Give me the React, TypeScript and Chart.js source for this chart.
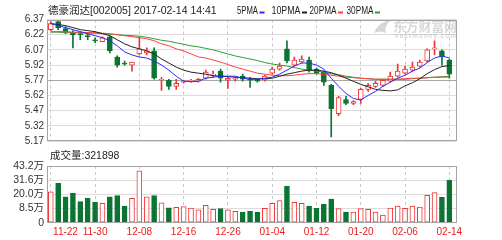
import React, { useEffect, useRef } from "react";
import { Chart, registerables } from "chart.js";

Chart.register(...registerables);

// ---------- data ----------
const dates = [
  "11-22", "11-23", "11-24", "11-25", "11-28", "11-29", "11-30",
  "12-01", "12-02", "12-05", "12-06", "12-07", "12-08", "12-09", "12-12", "12-13", "12-14", "12-15", "12-16",
  "12-19", "12-20", "12-21", "12-22", "12-23", "12-26", "12-27", "12-28", "12-29", "12-30",
  "01-03", "01-04", "01-05", "01-06", "01-09", "01-10", "01-11", "01-12", "01-13", "01-16", "01-17", "01-18",
  "01-19", "01-20", "01-23", "01-24", "01-25", "01-26",
  "02-03", "02-06", "02-07", "02-08", "02-09", "02-10", "02-13", "02-14",
];
const opens = [6.27, 6.35, 6.28, 6.24, 6.23, 6.21, 6.17, 6.15, 6.20, 6.00, 5.94, 5.92, 6.03, 6.04, 6.06, 5.77, 5.77, 5.71, 5.75, 5.76, 5.76, 5.79, 5.82, 5.86, 5.77, 5.78, 5.81, 5.78, 5.78, 5.77, 5.84, 5.88, 6.08, 5.92, 5.95, 5.97, 5.88, 5.85, 5.72, 5.44, 5.58, 5.54, 5.58, 5.68, 5.71, 5.72, 5.76, 5.81, 5.84, 5.87, 5.91, 5.96, 6.08, 6.06, 5.97];
const highs = [6.35, 6.36, 6.30, 6.26, 6.25, 6.24, 6.19, 6.20, 6.21, 6.01, 5.96, 5.95, 6.20, 6.09, 6.09, 5.80, 5.78, 5.78, 5.77, 5.78, 5.79, 5.87, 5.86, 5.88, 5.80, 5.80, 5.83, 5.80, 5.78, 5.82, 5.90, 5.94, 6.16, 6.00, 6.01, 6.00, 5.89, 5.86, 5.73, 5.61, 5.61, 5.57, 5.69, 5.74, 5.76, 5.78, 5.85, 5.93, 5.91, 5.95, 5.97, 6.08, 6.16, 6.07, 5.98];
const lows = [6.26, 6.27, 6.23, 6.09, 6.17, 6.17, 6.14, 6.15, 6.04, 5.90, 5.92, 5.86, 6.02, 6.02, 5.78, 5.67, 5.68, 5.68, 5.74, 5.75, 5.75, 5.78, 5.80, 5.75, 5.69, 5.76, 5.76, 5.70, 5.75, 5.76, 5.83, 5.87, 5.94, 5.91, 5.94, 5.85, 5.83, 5.72, 5.21, 5.42, 5.53, 5.53, 5.54, 5.66, 5.70, 5.71, 5.75, 5.80, 5.83, 5.86, 5.90, 5.95, 6.02, 5.92, 5.79];
const closes = [6.33, 6.29, 6.25, 6.22, 6.22, 6.20, 6.16, 6.19, 6.06, 5.92, 5.93, 5.95, 6.08, 6.06, 5.79, 5.78, 5.71, 5.74, 5.76, 5.77, 5.78, 5.85, 5.83, 5.79, 5.79, 5.79, 5.78, 5.77, 5.76, 5.81, 5.88, 5.91, 5.96, 5.97, 5.98, 5.87, 5.84, 5.75, 5.49, 5.60, 5.54, 5.56, 5.68, 5.72, 5.74, 5.77, 5.81, 5.86, 5.88, 5.90, 5.95, 6.07, 6.09, 6.00, 5.83];

const ma5 = [6.33, 6.31, 6.29, 6.27, 6.25, 6.23, 6.21, 6.19, 6.16, 6.11, 6.05, 6.02, 6.00, 5.99, 5.96, 5.92, 5.87, 5.81, 5.76, 5.755, 5.76, 5.79, 5.80, 5.81, 5.81, 5.81, 5.79, 5.78, 5.78, 5.79, 5.80, 5.83, 5.87, 5.91, 5.94, 5.94, 5.92, 5.88, 5.79, 5.71, 5.64, 5.59, 5.575, 5.62, 5.66, 5.71, 5.75, 5.79, 5.82, 5.86, 5.89, 5.945, 5.99, 6.01, 5.99];
const ma10 = [6.33, 6.32, 6.31, 6.29, 6.27, 6.26, 6.25, 6.23, 6.21, 6.17, 6.13, 6.10, 6.08, 6.06, 6.03, 5.98, 5.94, 5.90, 5.87, 5.85, 5.84, 5.83, 5.815, 5.81, 5.805, 5.80, 5.795, 5.79, 5.785, 5.785, 5.79, 5.81, 5.83, 5.845, 5.86, 5.87, 5.87, 5.86, 5.845, 5.82, 5.79, 5.76, 5.73, 5.705, 5.68, 5.67, 5.665, 5.675, 5.715, 5.745, 5.785, 5.835, 5.875, 5.905, 5.915];
const ma20 = [6.25, 6.25, 6.25, 6.245, 6.245, 6.24, 6.24, 6.235, 6.23, 6.22, 6.21, 6.20, 6.19, 6.18, 6.16, 6.13, 6.11, 6.08, 6.06, 6.03, 6.00, 5.99, 5.97, 5.95, 5.925, 5.90, 5.88, 5.86, 5.84, 5.83, 5.82, 5.815, 5.815, 5.82, 5.83, 5.835, 5.835, 5.83, 5.82, 5.81, 5.80, 5.795, 5.79, 5.785, 5.78, 5.78, 5.78, 5.78, 5.785, 5.79, 5.79, 5.795, 5.80, 5.80, 5.80];
const ma30 = [6.245, 6.245, 6.24, 6.24, 6.24, 6.235, 6.235, 6.23, 6.225, 6.22, 6.215, 6.21, 6.205, 6.195, 6.18, 6.165, 6.155, 6.14, 6.125, 6.11, 6.10, 6.085, 6.07, 6.05, 6.03, 6.01, 5.995, 5.98, 5.965, 5.945, 5.93, 5.92, 5.91, 5.895, 5.88, 5.87, 5.86, 5.85, 5.835, 5.825, 5.81, 5.80, 5.79, 5.785, 5.78, 5.78, 5.78, 5.78, 5.78, 5.785, 5.79, 5.795, 5.80, 5.805, 5.81];

// volume in 万
const volumes = [23.6, 30.0, 19.8, 22.4, 16.0, 18.5, 15.5, 14.7, 19.8, 20.6, 12.7, 18.5, 39.6, 19.8, 20.6, 15.2, 11.4, 11.7, 12.2, 11.2, 9.9, 13.2, 10.2, 10.7, 9.9, 8.6, 8.1, 8.6, 8.1, 10.9, 14.7, 16.8, 27.9, 15.5, 14.7, 12.7, 10.9, 14.0, 18.0, 10.7, 8.1, 8.1, 10.7, 10.2, 8.1, 5.8, 11.2, 12.7, 10.9, 12.7, 11.9, 20.8, 22.9, 19.3, 32.1898];

const priceTicks = [5.17, 5.32, 5.47, 5.62, 5.77, 5.92, 6.07, 6.22, 6.37];
const volTickValues = [0, 10.8, 21.6, 32.4, 43.2];
const volTickLabels = ["0", "8.5万", "20.0万", "31.6万", "43.2万"];
const xTickIndex = [0, 6, 12, 18, 24, 30, 36, 42, 48, 54];

const stockTitle = "德豪润达[002005] 2017-02-14 14:41";
const maNames = ["5PMA", "10PMA", "20PMA", "30PMA"];
const volumeLabel = "成交量:321898";
const watermark = "东方财富网";
const watermarkSub = "eastmoney.com";

// ---------- styles ----------
const RED = "#f03434";
const GREEN = "#0b7433";
const MA_COLORS = ["#2b2bff", "#222222", "#ff4040", "#2f9e3a"];
const FONT = "'Liberation Sans', 'Noto Sans CJK SC', sans-serif";
const GRID = "#dcdcdc";
const VGRID = "#c8c8c8";
const FRAME = "#a4a4a4";

const up = closes.map((c, i) => c >= opens[i]);

function xScale(h: number) {
  return {
    type: "linear",
    min: -0.5,
    max: dates.length,
    offset: false,
    afterBuildTicks: (s: any) => {
      s.ticks = xTickIndex.map((v) => ({ value: v }));
    },
    afterFit: (s: any) => {
      s.height = h;
    },
    ticks: { display: false },
    grid: { color: VGRID, drawTicks: false, offset: false, lineWidth: 1 },
    border: { display: false, dash: [3, 3] },
  };
}

const framePlugin = {
  id: "frame",
  afterDraw(chart: any) {
    const { ctx, chartArea: a } = chart;
    ctx.save();
    ctx.strokeStyle = FRAME;
    ctx.lineWidth = 1;
    const l = Math.round(a.left) + 0.5;
    const t = Math.round(a.top) + 0.5;
    const r = Math.round(a.right) - 0.5;
    const b = Math.round(a.bottom) - 0.5;
    ctx.strokeRect(l, t, r - l, b - t);
    ctx.restore();
  },
};

const headerPlugin = {
  id: "header",
  beforeDatasetsDraw(chart: any) {
    const { ctx } = chart;
    ctx.save();
    ctx.fillStyle = "rgba(150,150,150,0.38)";
    // simple logo swoosh
    ctx.beginPath();
    ctx.moveTo(374, 33);
    ctx.quadraticCurveTo(378, 22, 391, 20);
    ctx.quadraticCurveTo(384, 26, 386, 33);
    ctx.quadraticCurveTo(380, 30, 374, 33);
    ctx.fill();
    ctx.font = "bold 13px 'Noto Sans CJK SC', sans-serif";
    ctx.textBaseline = "middle";
    ctx.textAlign = "left";
    ctx.fillText(watermark, 393, 26.5, 64);
    ctx.font = "bold 7px 'Liberation Sans', sans-serif";
    (ctx as any).letterSpacing = "1.2px";
    ctx.fillText(watermarkSub, 395, 36.5, 62);
    ctx.restore();
  },
  afterDraw(chart: any) {
    const { ctx } = chart;
    ctx.save();
    ctx.fillStyle = "#222";
    ctx.textBaseline = "alphabetic";
    ctx.textAlign = "left";
    ctx.font = `10.5px ${FONT}`;
    ctx.fillText(stockTitle, 48, 14);
    const starts = [237, 271.5, 309.5, 346.5];
    const widths = [21, 29, 27, 27];
    ctx.font = `10px ${FONT}`;
    maNames.forEach((n, i) => {
      ctx.fillStyle = "#222";
      ctx.fillText(n, starts[i], 14, widths[i]);
      ctx.fillStyle = MA_COLORS[i];
      ctx.fillRect(starts[i] + widths[i] + 1.5, 11.5, 5, 2);
    });
    ctx.restore();
  },
};

const volumeTextPlugin = {
  id: "volText",
  afterDraw(chart: any) {
    const { ctx, chartArea: a } = chart;
    const xs = chart.scales.x;
    ctx.save();
    ctx.font = `10px ${FONT}`;
    ctx.fillStyle = "#e82020";
    ctx.textBaseline = "middle";
    ctx.textAlign = "center";
    xTickIndex.forEach((i) => {
      const t = dates[i];
      const w = ctx.measureText(t).width;
      const px = Math.max(xs.getPixelForValue(i), a.left + 6 + w / 2);
      ctx.fillText(t, px, a.bottom + 9.5);
    });
    ctx.fillStyle = "#222";
    ctx.textAlign = "left";
    ctx.font = `10.5px ${FONT}`;
    ctx.fillText(volumeLabel, 50, 6.5);
    ctx.restore();
  },
};

function PriceChart() {
  const ref = useRef<HTMLCanvasElement | null>(null);
  useEffect(() => {
    if (!ref.current) return;
    const maSets = [ma5, ma10, ma20, ma30].map((arr, k) => ({
      type: "line",
      data: arr.map((v, i) => ({ x: i, y: v })),
      borderColor: MA_COLORS[k],
      borderWidth: 1,
      pointRadius: 0,
      tension: 0,
      fill: false,
      order: 1,
    }));
    const chart = new Chart(ref.current, {
      type: "bar",
      data: {
        datasets: [
          {
            type: "bar",
            data: lows.map((l, i) => ({ x: i, y: [l, highs[i]] })),
            backgroundColor: up.map((u) => (u ? RED : GREEN)),
            borderWidth: 0,
            barThickness: 1,
            grouped: false,
            order: 5,
          },
          {
            type: "bar",
            data: opens.map((o, i) => ({ x: i, y: [o, closes[i]] })),
            backgroundColor: up.map((u) => (u ? "#ffffff" : GREEN)),
            borderColor: up.map((u) => (u ? RED : GREEN)),
            borderWidth: 1,
            borderSkipped: false,
            barThickness: 5,
            minBarLength: 1,
            grouped: false,
            order: 4,
          },
          ...maSets,
        ] as any,
      },
      options: {
        responsive: false,
        animation: false,
        events: [],
        layout: { padding: { left: 0, right: 45.3, top: 19.5, bottom: 6 } },
        plugins: { legend: { display: false }, tooltip: { enabled: false } },
        scales: {
          x: xScale(0) as any,
          y: {
            type: "linear",
            position: "left",
            min: priceTicks[0],
            max: priceTicks[priceTicks.length - 1],
            afterBuildTicks: (s: any) => {
              s.ticks = priceTicks.map((v) => ({ value: v }));
            },
            afterFit: (s: any) => {
              s.width = 47.1;
            },
            ticks: {
              callback: (v: any) => Number(v).toFixed(2),
              font: { family: FONT, size: 10 },
              color: "#333",
              padding: 3,
              autoSkip: false,
            },
            grid: {
              drawTicks: false,
              color: (c: any) =>
                c.tick && Math.abs(c.tick.value - 5.77) < 1e-6 ? "#a8a8a8" : GRID,
            },
            border: { display: false },
          } as any,
        },
      },
      plugins: [headerPlugin, framePlugin],
    } as any);
    return () => chart.destroy();
  }, []);
  return (
    <canvas
      ref={ref}
      width={502}
      height={150}
      style={{ position: "absolute", left: 0, top: 0, width: 502, height: 150 }}
    />
  );
}

function VolumeChart() {
  const ref = useRef<HTMLCanvasElement | null>(null);
  useEffect(() => {
    if (!ref.current) return;
    const chart = new Chart(ref.current, {
      type: "bar",
      data: {
        datasets: [
          {
            data: volumes.map((v, i) => ({ x: i, y: v })),
            backgroundColor: up.map((u) => (u ? "#ffffff" : GREEN)),
            borderColor: up.map((u) => (u ? RED : GREEN)),
            borderWidth: 1,
            borderSkipped: false,
            barThickness: 5,
            grouped: false,
          },
        ] as any,
      },
      options: {
        responsive: false,
        animation: false,
        events: [],
        layout: { padding: { left: 0, right: 45.3, top: 16, bottom: 0 } },
        plugins: { legend: { display: false }, tooltip: { enabled: false } },
        scales: {
          x: xScale(17.3) as any,
          y: {
            type: "linear",
            position: "left",
            min: volTickValues[0],
            max: volTickValues[volTickValues.length - 1],
            afterBuildTicks: (s: any) => {
              s.ticks = volTickValues.map((v) => ({ value: v }));
            },
            afterFit: (s: any) => {
              s.width = 47.1;
            },
            ticks: {
              callback: (_v: any, idx: number) => volTickLabels[idx],
              font: { family: FONT, size: 10.5 },
              color: "#333",
              padding: 3,
              autoSkip: false,
            },
            grid: { drawTicks: false, color: GRID },
            border: { display: false },
          } as any,
        },
      },
      plugins: [volumeTextPlugin, framePlugin],
    } as any);
    return () => chart.destroy();
  }, []);
  return (
    <canvas
      ref={ref}
      width={502}
      height={90}
      style={{ position: "absolute", left: 0, top: 150, width: 502, height: 90 }}
    />
  );
}

export default function App() {
  return (
    <div
      style={{
        position: "absolute",
        left: 0,
        top: 0,
        width: 502,
        height: 240,
        background: "#ffffff",
        overflow: "hidden",
      }}
    >
      <PriceChart />
      <VolumeChart />
    </div>
  );
}
